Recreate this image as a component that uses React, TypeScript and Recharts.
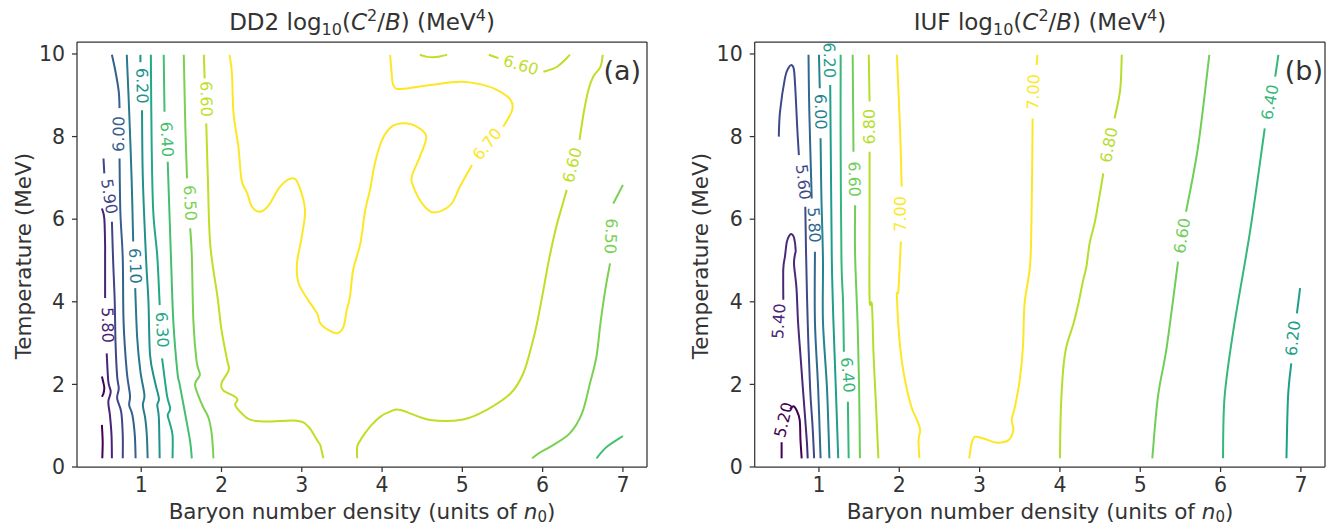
import React from "react";
import {
  ComposedChart,
  Line,
  Scatter,
  XAxis,
  YAxis,
  ReferenceLine,
} from "recharts";

type Pt = [number, number];
type Seg = Pt[];
// [x, y, text, rotation, level]
type Lbl = [number, number, string, number, number];

const FONT = "DejaVu Sans";
const INK = "#333333";

const xTicks = [1, 2, 3, 4, 5, 6, 7];
const yTicks = [0, 2, 4, 6, 8, 10];
const xDomain: [number, number] = [0.2, 7.3];
const yDomain: [number, number] = [0, 10.29];

// ---------- DD2 panel (a) ----------
const dd2Levels = [5.7, 5.8, 5.9, 6.0, 6.1, 6.2, 6.3, 6.4, 6.5, 6.6, 6.7];
const dd2Colors = [
  "#440154", "#482475", "#414487", "#355f8d", "#2a788e", "#21918c",
  "#22a884", "#44bf70", "#7ad151", "#bddf26", "#fde725",
];

const dd2_57: Seg[] = [
  [[0.51, 2.19], [0.53, 2.03], [0.54, 1.91], [0.53, 1.78], [0.51, 1.7]],
  [[0.51, 1.02], [0.52, 0.61], [0.515, 0.21]],
];
const dd2_58: Seg[] = [
  [[0.51, 6.26], [0.54, 6.02], [0.55, 5.38], [0.55, 5.13], [0.55, 4.09]],
  [[0.57, 2.75], [0.59, 2.07], [0.62, 1.82], [0.59, 1.58], [0.61, 1.26], [0.63, 0.77], [0.635, 0.21]],
];
const dd2_59: Seg[] = [
  [[0.53, 7.47], [0.54, 7.11]],
  [[0.635, 5.94], [0.65, 5.0], [0.67, 4.0], [0.68, 3.0], [0.7, 2.2], [0.72, 1.9], [0.7, 1.66], [0.75, 1.34], [0.77, 0.77], [0.77, 0.21]],
];
const dd2_60: Seg[] = [
  [[0.635, 9.98], [0.68, 9.57], [0.72, 9.09], [0.73, 8.69]],
  [[0.73, 7.47], [0.74, 6.18], [0.77, 5.05], [0.78, 3.52], [0.82, 2.31], [0.86, 1.74], [0.85, 1.5], [0.89, 1.26], [0.92, 0.77], [0.93, 0.21]],
];
const dd2_61: Seg[] = [
  [[0.82, 9.98], [0.85, 8.6], [0.88, 6.99], [0.9, 5.46]],
  [[0.925, 4.33], [0.95, 3.12], [0.99, 2.31], [1.04, 1.74], [1.02, 1.5], [1.05, 1.18], [1.07, 0.77], [1.08, 0.21]],
];
const dd2_62: Seg[] = [
  [[0.99, 9.98], [0.99, 9.8]],
  [[1.01, 8.64], [1.02, 6.99], [1.06, 5.05], [1.09, 4.0], [1.11, 2.71], [1.17, 2.07], [1.22, 1.66], [1.2, 1.5], [1.22, 1.18], [1.23, 0.21]],
];
const dd2_63: Seg[] = [
  [[1.12, 9.98], [1.13, 7.8], [1.15, 6.18], [1.2, 5.1], [1.23, 3.92]],
  [[1.26, 2.63], [1.32, 1.74], [1.36, 1.42], [1.33, 1.26], [1.35, 1.1], [1.39, 0.77], [1.39, 0.21]],
];
const dd2_64: Seg[] = [
  [[1.28, 9.98], [1.29, 8.6]],
  [[1.33, 7.39], [1.37, 5.1], [1.4, 3.52], [1.45, 2.31], [1.48, 1.99], [1.55, 1.26], [1.61, 0.61], [1.63, 0.21]],
  [[6.67, 0.21], [6.8, 0.49], [7.0, 0.75]],
];
const dd2_65: Seg[] = [
  [[1.53, 9.98], [1.55, 8.2], [1.57, 6.99]],
  [[1.61, 5.78], [1.63, 5.13], [1.65, 3.52], [1.69, 2.55], [1.73, 2.23], [1.67, 1.99], [1.76, 1.5], [1.84, 1.18], [1.88, 0.77], [1.9, 0.21]],
  [[7.0, 6.83], [6.88, 6.38]],
  [[6.84, 4.93], [6.78, 4.29], [6.72, 3.48], [6.67, 2.67], [6.59, 2.03], [6.49, 1.3], [6.34, 0.82], [6.13, 0.53], [5.95, 0.33], [5.87, 0.21]],
];
const dd2_66: Seg[] = [
  [[1.78, 9.98], [1.79, 9.41]],
  [[1.81, 8.32], [1.83, 6.99], [1.86, 5.38], [1.95, 4.12], [2.0, 3.32], [2.07, 2.59], [2.09, 2.35], [2.0, 2.03], [2.02, 1.86], [2.17, 1.7], [2.2, 1.62], [2.17, 1.5], [2.25, 1.3], [2.36, 1.14], [2.57, 1.1], [2.94, 1.12], [3.08, 0.98], [3.19, 0.65], [3.23, 0.53], [3.25, 0.37], [3.27, 0.21]],
  [[3.69, 0.21], [3.69, 0.49], [3.73, 0.65], [3.77, 0.77], [3.87, 1.02], [3.98, 1.22], [4.1, 1.34], [4.23, 1.38], [4.6, 1.14], [5.01, 1.15], [5.3, 1.38], [5.6, 1.78], [5.76, 2.27], [5.87, 2.99], [5.93, 3.48], [6.01, 4.29], [6.07, 4.93], [6.16, 5.74], [6.24, 6.3], [6.3, 6.71]],
  [[6.46, 7.92], [6.51, 8.56], [6.57, 9.13], [6.63, 9.45], [6.72, 9.69], [6.75, 9.98]],
  [[4.47, 9.98], [4.56, 9.93], [4.64, 9.92], [4.72, 9.94], [4.81, 9.98]],
  [[5.33, 9.98], [5.45, 9.9]],
  [[6.01, 9.57], [6.18, 9.69], [6.34, 9.98]],
];
const dd2_67: Seg[] = [
  [[2.1, 9.98], [2.13, 9.53], [2.15, 8.56], [2.21, 7.76], [2.25, 6.95], [2.32, 6.63], [2.38, 6.3], [2.48, 6.18], [2.59, 6.34], [2.73, 6.79], [2.88, 6.99], [2.96, 6.83], [3.04, 6.22], [3.0, 5.58], [2.94, 4.93], [2.96, 4.45], [3.08, 4.04], [3.19, 3.72], [3.23, 3.48], [3.33, 3.32], [3.44, 3.24], [3.52, 3.4], [3.56, 3.8], [3.6, 4.12], [3.64, 4.77], [3.73, 5.42], [3.79, 6.22], [3.85, 6.71], [3.91, 7.35], [4.0, 7.92], [4.12, 8.24], [4.27, 8.32], [4.43, 8.24], [4.55, 8.0], [4.47, 7.51], [4.37, 7.03], [4.39, 6.79], [4.5, 6.38], [4.64, 6.16], [4.85, 6.34], [4.97, 6.79], [5.12, 7.31]],
  [[5.51, 8.24], [5.62, 8.64], [5.6, 8.89], [5.43, 9.13], [5.22, 9.27], [4.97, 9.33], [4.6, 9.25], [4.23, 9.15], [4.14, 9.25], [4.12, 9.53], [4.1, 9.98]],
];
const dd2Segs = [dd2_57, dd2_58, dd2_59, dd2_60, dd2_61, dd2_62, dd2_63, dd2_64, dd2_65, dd2_66, dd2_67];

const dd2Labels: Lbl[] = [
  [0.58, 3.44, "5.80", 89, 5.8],
  [0.6, 6.55, "5.90", 81, 5.9],
  [0.72, 8.06, "6.00", -89, 6.0],
  [0.925, 4.87, "6.10", 88, 6.1],
  [1.01, 9.23, "6.20", 89, 6.2],
  [1.26, 3.32, "6.30", 87, 6.3],
  [1.32, 7.93, "6.40", 87, 6.4],
  [1.61, 6.39, "6.50", 87, 6.5],
  [1.81, 8.91, "6.60", 89, 6.6],
  [5.31, 7.82, "6.70", -51, 6.7],
  [5.73, 9.73, "6.60", 17, 6.6],
  [6.37, 7.31, "6.60", -76, 6.6],
  [6.85, 5.59, "6.50", 93, 6.5],
];

// ---------- IUF panel (b) ----------
const iufLevels = [5.2, 5.4, 5.6, 5.8, 6.0, 6.2, 6.4, 6.6, 6.8, 7.0];
const iufColors = [
  "#440154", "#482878", "#3e4989", "#31688e", "#26828e",
  "#1f9e89", "#35b779", "#6ece58", "#b5de2b", "#fde725",
];

const iuf_52: Seg[] = [
  [[0.535, 0.21], [0.535, 0.6]],
  [[0.64, 1.4], [0.68, 1.47], [0.72, 1.38], [0.76, 1.14], [0.77, 0.65], [0.785, 0.21]],
];
const iuf_54: Seg[] = [
  [[0.556, 4.05], [0.556, 4.8], [0.577, 5.1], [0.6, 5.45], [0.63, 5.6], [0.66, 5.64], [0.69, 5.55], [0.71, 5.25], [0.7, 5.13], [0.69, 4.9], [0.72, 4.33], [0.74, 3.5], [0.77, 2.7], [0.8, 1.9], [0.825, 1.26], [0.85, 0.6], [0.86, 0.21]],
];
const iuf_56: Seg[] = [
  [[0.5, 8.0], [0.515, 8.6], [0.577, 9.42], [0.62, 9.66], [0.66, 9.73], [0.69, 9.6], [0.71, 9.0], [0.73, 8.2], [0.75, 7.55]],
  [[0.83, 6.3], [0.84, 5.13], [0.86, 3.5], [0.89, 1.9], [0.92, 1.0], [0.94, 0.21]],
];
const iuf_58: Seg[] = [
  [[0.87, 9.98], [0.88, 8.6], [0.91, 6.5]],
  [[0.95, 5.21], [0.95, 3.52], [0.99, 1.9], [1.02, 0.21]],
];
const iuf_60: Seg[] = [
  [[1.0, 9.98], [1.01, 9.17]],
  [[1.02, 7.96], [1.03, 6.59], [1.05, 5.01], [1.05, 3.52], [1.1, 1.9], [1.13, 0.21]],
];
const iuf_62: Seg[] = [
  [[1.14, 9.25], [1.15, 6.99], [1.16, 5.01], [1.18, 3.52], [1.21, 1.9], [1.24, 0.21]],
  [[6.99, 4.33], [6.95, 3.72]],
  [[6.88, 2.51], [6.84, 1.7], [6.82, 0.21]],
];
const iuf_64: Seg[] = [
  [[1.27, 9.98], [1.27, 7.8], [1.28, 5.01], [1.3, 4.0], [1.31, 2.79]],
  [[1.36, 1.58], [1.37, 0.21]],
  [[6.72, 9.98], [6.68, 9.45]],
  [[6.55, 8.2], [6.37, 5.74], [6.16, 3.32], [6.05, 1.7], [6.03, 0.21]],
];
const iuf_66: Seg[] = [
  [[1.42, 9.98], [1.43, 7.63]],
  [[1.45, 6.34], [1.45, 5.13], [1.48, 3.52], [1.5, 1.9], [1.51, 0.21]],
  [[5.86, 9.98], [5.72, 7.76], [5.57, 6.18]],
  [[5.47, 4.97], [5.33, 2.91], [5.22, 1.7], [5.15, 0.21]],
];
const iuf_68: Seg[] = [
  [[1.62, 9.98], [1.63, 8.85]],
  [[1.63, 7.63], [1.63, 6.18], [1.63, 4.08], [1.66, 3.92], [1.68, 2.71], [1.71, 1.5], [1.74, 0.21]],
  [[4.77, 9.98], [4.75, 9.13], [4.68, 8.44]],
  [[4.54, 7.11], [4.44, 5.98], [4.37, 5.42], [4.33, 4.85], [4.29, 4.53], [4.23, 3.96], [4.17, 3.48], [4.08, 2.91], [4.04, 2.35], [4.01, 1.3], [4.0, 0.21]],
];
const iuf_70: Seg[] = [
  [[1.97, 9.98], [2.01, 8.16], [2.03, 6.79]],
  [[2.02, 5.46], [1.99, 4.29], [1.97, 4.12], [2.01, 2.91], [2.07, 2.11], [2.15, 1.46], [2.22, 1.14], [2.26, 0.9], [2.24, 0.65], [2.25, 0.21]],
  [[3.72, 9.98], [3.71, 9.73]],
  [[3.66, 8.44], [3.65, 6.55], [3.63, 4.93], [3.56, 3.96], [3.54, 2.91], [3.5, 2.11], [3.44, 1.46], [3.4, 1.14], [3.42, 0.9], [3.36, 0.65], [3.21, 0.59], [3.05, 0.69], [2.94, 0.73], [2.9, 0.57], [2.88, 0.33], [2.87, 0.21]],
];
const iufSegs = [iuf_52, iuf_54, iuf_56, iuf_58, iuf_60, iuf_62, iuf_64, iuf_66, iuf_68, iuf_70];

const iufLabels: Lbl[] = [
  [0.56, 1.14, "5.20", -76, 5.2],
  [0.5, 3.53, "5.40", -86, 5.4],
  [0.805, 6.9, "5.60", 83, 5.6],
  [0.94, 5.86, "5.80", 87, 5.8],
  [1.02, 8.6, "6.00", 89, 6.0],
  [1.13, 9.85, "6.20", 89, 6.2],
  [1.36, 2.23, "6.40", 85, 6.4],
  [1.44, 6.97, "6.60", 89, 6.6],
  [1.63, 8.24, "6.80", -90, 6.8],
  [2.02, 6.13, "7.00", -90, 7.0],
  [3.67, 9.08, "7.00", -88, 7.0],
  [4.61, 7.8, "6.80", -79, 6.8],
  [5.52, 5.6, "6.60", -81, 6.6],
  [6.615, 8.83, "6.40", -79, 6.4],
  [6.9, 3.12, "6.20", -84, 6.2],
];

// smooth curve through the read-off points (uniform Catmull-Rom)
function smoothCurve(context: any) {
  let pts: number[][] = [];
  return {
    areaStart() {},
    areaEnd() {},
    lineStart() {
      pts = [];
    },
    point(x: number, y: number) {
      pts.push([+x, +y]);
    },
    lineEnd() {
      const n = pts.length;
      if (!n) return;
      context.moveTo(pts[0][0], pts[0][1]);
      for (let i = 0; i < n - 1; i++) {
        const p0 = pts[i - 1] || pts[i];
        const p1 = pts[i];
        const p2 = pts[i + 1];
        const p3 = pts[i + 2] || p2;
        context.bezierCurveTo(
          p1[0] + (p2[0] - p0[0]) / 6,
          p1[1] + (p2[1] - p0[1]) / 6,
          p2[0] - (p3[0] - p1[0]) / 6,
          p2[1] - (p3[1] - p1[1]) / 6,
          p2[0],
          p2[1]
        );
      }
    },
  };
}

function LabelShape(props: any) {
  const { cx, cy, payload } = props;
  if (cx == null || cy == null) return null;
  return (
    <text
      x={cx}
      y={cy}
      fill={payload.color}
      fontSize={16}
      fontFamily={FONT}
      textAnchor="middle"
      dominantBaseline="central"
      transform={`rotate(${payload.angle} ${cx} ${cy})`}
    >
      {payload.text}
    </text>
  );
}

type PanelProps = {
  id: string;
  levels: number[];
  colors: string[];
  segs: Seg[][];
  labels: Lbl[];
  marginLeft: number;
  marginRight: number;
};

function ContourPanel({ id, levels, colors, segs, labels, marginLeft, marginRight }: PanelProps) {
  const labelData = labels.map(([x, y, text, angle, level]) => ({
    x,
    y,
    text,
    angle,
    color: colors[levels.indexOf(level)],
  }));
  return (
    <ComposedChart
      width={660}
      height={529}
      margin={{ top: 42, right: marginRight, bottom: 32, left: marginLeft }}
    >
      <XAxis
        type="number"
        dataKey="x"
        domain={xDomain}
        ticks={xTicks}
        allowDataOverflow
        height={30}
        tickSize={5}
        tickMargin={5}
        tick={{ fontSize: 20.5, fill: INK, fontFamily: FONT }}
        axisLine={{ stroke: INK, strokeWidth: 1.25 }}
        tickLine={{ stroke: INK, strokeWidth: 1.25 }}
      />
      <YAxis
        type="number"
        dataKey="y"
        domain={yDomain}
        ticks={yTicks}
        allowDataOverflow
        width={50}
        tickSize={5}
        tickMargin={7}
        tick={{ fontSize: 20.5, fill: INK, fontFamily: FONT }}
        axisLine={{ stroke: INK, strokeWidth: 1.25 }}
        tickLine={{ stroke: INK, strokeWidth: 1.25 }}
      />
      <ReferenceLine y={yDomain[1]} stroke={INK} strokeWidth={1.25} />
      <ReferenceLine x={xDomain[1]} stroke={INK} strokeWidth={1.25} />
      {segs.map((levelSegs, li) =>
        levelSegs.map((seg, si) => (
          <Line
            key={`${id}-${li}-${si}`}
            data={seg.map(([x, y]) => ({ x, y }))}
            dataKey="y"
            type={smoothCurve as any}
            stroke={colors[li]}
            strokeWidth={2}
            dot={false}
            activeDot={false}
            isAnimationActive={false}
          />
        ))
      )}
      <Scatter
        data={labelData}
        dataKey="y"
        shape={LabelShape}
        isAnimationActive={false}
      />
    </ComposedChart>
  );
}

function Title({ cx, name }: { cx: number; name: string }) {
  return (
    <text x={cx} y={30} textAnchor="middle" fontSize={23} fontFamily={FONT} fill={INK}>
      {name} log
      <tspan fontSize={16} dy={5}>10</tspan>
      <tspan dy={-5}>(</tspan>
      <tspan fontStyle="italic">C</tspan>
      <tspan fontSize={16} dy={-9}>2</tspan>
      <tspan dy={9}>/</tspan>
      <tspan fontStyle="italic">B</tspan>
      <tspan>) (MeV</tspan>
      <tspan fontSize={16} dy={-9}>4</tspan>
      <tspan dy={9}>)</tspan>
    </text>
  );
}

function XLabel({ cx }: { cx: number }) {
  return (
    <text x={cx} y={519} textAnchor="middle" fontSize={21.5} fontFamily={FONT} fill={INK}>
      Baryon number density (units of <tspan fontStyle="italic">n</tspan>
      <tspan fontSize={15} dy={3}>0</tspan>
      <tspan dy={-3}>)</tspan>
    </text>
  );
}

function YLabel({ x }: { x: number }) {
  return (
    <text
      x={x}
      y={256}
      textAnchor="middle"
      fontSize={21.5}
      fontFamily={FONT}
      fill={INK}
      transform={`rotate(-90 ${x} 256)`}
    >
      Temperature (MeV)
    </text>
  );
}

export default function App() {
  return (
    <div
      style={{
        position: "absolute",
        left: 0,
        top: 0,
        width: 1335,
        height: 529,
        background: "#ffffff",
        overflow: "hidden",
      }}
    >
      <div style={{ position: "absolute", left: 0, top: 0 }}>
        <ContourPanel
          id="dd2"
          levels={dd2Levels}
          colors={dd2Colors}
          segs={dd2Segs}
          labels={dd2Labels}
          marginLeft={27}
          marginRight={13}
        />
      </div>
      <div style={{ position: "absolute", left: 677, top: 0 }}>
        <ContourPanel
          id="iuf"
          levels={iufLevels}
          colors={iufColors}
          segs={iufSegs}
          labels={iufLabels}
          marginLeft={27.7}
          marginRight={12}
        />
      </div>
      <svg
        width={1335}
        height={529}
        style={{ position: "absolute", left: 0, top: 0, pointerEvents: "none" }}
      >
        <Title cx={362} name="DD2" />
        <Title cx={1040} name="IUF" />
        <XLabel cx={362} />
        <XLabel cx={1040} />
        <YLabel x={31} />
        <YLabel x={708} />
        <text x={641} y={80} textAnchor="end" fontSize={27} fontFamily={FONT} fill={INK}>
          (a)
        </text>
        <text x={1323} y={80} textAnchor="end" fontSize={27} fontFamily={FONT} fill={INK}>
          (b)
        </text>
      </svg>
    </div>
  );
}
